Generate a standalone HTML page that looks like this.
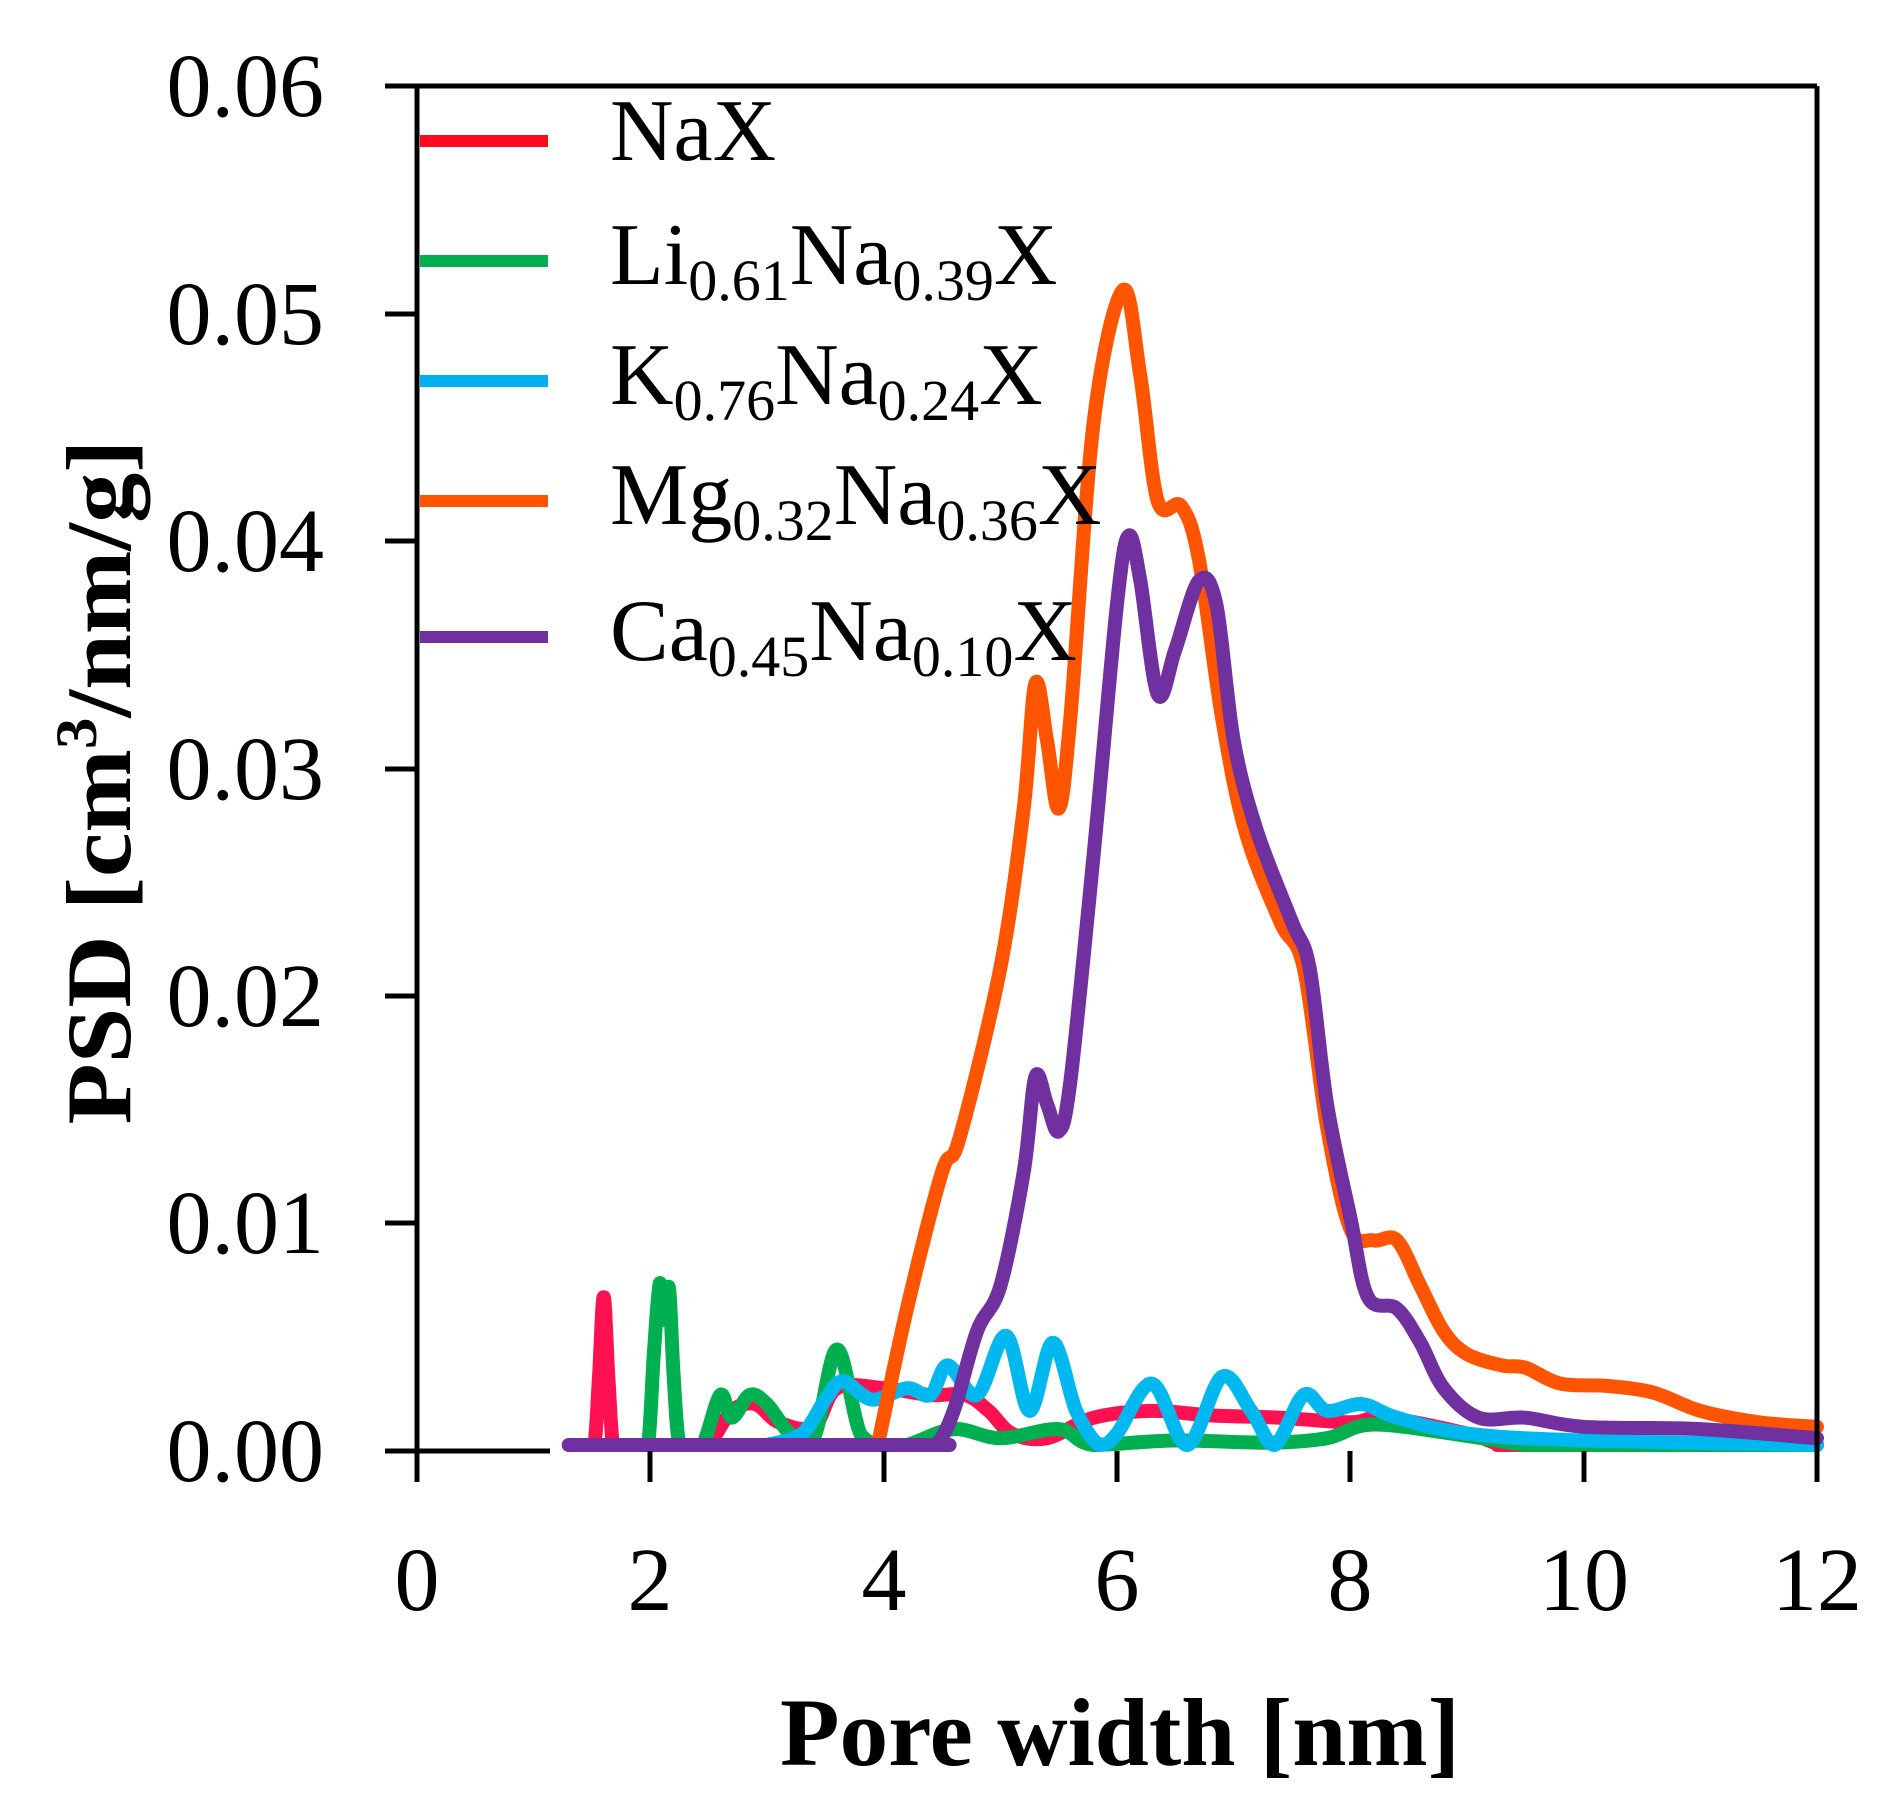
<!DOCTYPE html>
<html><head><meta charset="utf-8"><style>
body{margin:0;background:#fff}
svg{display:block}
text{font-family:"Liberation Serif",serif;fill:#000}
</style></head><body>
<svg id="s" width="1899" height="1811" viewBox="0 0 1899 1811" xmlns="http://www.w3.org/2000/svg">
<g id="curves" fill="none" stroke-width="14" stroke-linejoin="round" stroke-linecap="round"></g>
<g stroke="#000" stroke-width="5" fill="none">
<line x1="417" y1="86" x2="1817" y2="86"/>
<line x1="417" y1="86" x2="417" y2="1451"/>
<line x1="1817" y1="86" x2="1817" y2="1451"/>
<line x1="385" y1="1451" x2="550" y2="1451"/>
<line x1="385" y1="86" x2="417" y2="86"/>
<line x1="385" y1="314" x2="417" y2="314"/>
<line x1="385" y1="541" x2="417" y2="541"/>
<line x1="385" y1="769" x2="417" y2="769"/>
<line x1="385" y1="996" x2="417" y2="996"/>
<line x1="385" y1="1223" x2="417" y2="1223"/>
<line x1="417" y1="1451" x2="417" y2="1482"/>
<line x1="650" y1="1451" x2="650" y2="1482"/>
<line x1="884" y1="1451" x2="884" y2="1482"/>
<line x1="1117" y1="1451" x2="1117" y2="1482"/>
<line x1="1350" y1="1451" x2="1350" y2="1482"/>
<line x1="1584" y1="1451" x2="1584" y2="1482"/>
<line x1="1817" y1="1451" x2="1817" y2="1482"/>
</g>
<g font-size="90" text-anchor="end">
<text x="324" y="116">0.06</text>
<text x="324" y="344">0.05</text>
<text x="324" y="571">0.04</text>
<text x="324" y="799">0.03</text>
<text x="324" y="1026">0.02</text>
<text x="324" y="1253">0.01</text>
<text x="324" y="1481">0.00</text>
</g>
<g font-size="90" text-anchor="middle">
<text x="417" y="1610">0</text>
<text x="650" y="1610">2</text>
<text x="884" y="1610">4</text>
<text x="1117" y="1610">6</text>
<text x="1350" y="1610">8</text>
<text x="1584" y="1610">10</text>
<text x="1817" y="1610">12</text>
</g>
<text x="1120" y="1765" font-size="96" font-weight="bold" text-anchor="middle" textLength="680" lengthAdjust="spacingAndGlyphs">Pore width [nm]</text>
<text transform="translate(130,782) rotate(-90)" font-size="92" font-weight="bold" text-anchor="middle" textLength="685" lengthAdjust="spacingAndGlyphs">PSD [cm<tspan font-size="58" dy="-34">3</tspan><tspan dy="34">/nm/g]</tspan></text>
<g stroke-width="12">
<line x1="420" y1="141" x2="548" y2="141" stroke="#ff0a1e"/>
<line x1="420" y1="261" x2="548" y2="261" stroke="#00b050"/>
<line x1="420" y1="381" x2="548" y2="381" stroke="#00b0f0"/>
<line x1="420" y1="501" x2="548" y2="501" stroke="#ff5500"/>
<line x1="420" y1="637" x2="548" y2="637" stroke="#7030a0"/>
</g>
<g font-size="88">
<text x="610" y="160">NaX</text>
<text x="610" y="284">Li<tspan font-size="58" dy="16">0.61</tspan><tspan dy="-16">Na</tspan><tspan font-size="58" dy="16">0.39</tspan><tspan dy="-16">X</tspan></text>
<text x="610" y="404">K<tspan font-size="58" dy="16">0.76</tspan><tspan dy="-16">Na</tspan><tspan font-size="58" dy="16">0.24</tspan><tspan dy="-16">X</tspan></text>
<text x="610" y="524">Mg<tspan font-size="58" dy="16">0.32</tspan><tspan dy="-16">Na</tspan><tspan font-size="58" dy="16">0.36</tspan><tspan dy="-16">X</tspan></text>
<text x="610" y="660">Ca<tspan font-size="58" dy="16">0.45</tspan><tspan dy="-16">Na</tspan><tspan font-size="58" dy="16">0.10</tspan><tspan dy="-16">X</tspan></text>
</g>
</svg>
<script>
function X(x){return 417+116.67*x}
function Y(y){return 1445-22733*y}
function path(d){
 var p=d.map(function(a){return [X(a[0]),Y(a[1])]});
 var s="M"+p[0][0].toFixed(1)+" "+p[0][1].toFixed(1);
 for(var i=0;i<p.length-1;i++){
  var p0=p[i-1]||p[i],p1=p[i],p2=p[i+1],p3=p[i+2]||p2;
  var c1=[p1[0]+(p2[0]-p0[0])/6,p1[1]+(p2[1]-p0[1])/6];
  var c2=[p2[0]-(p3[0]-p1[0])/6,p2[1]-(p3[1]-p1[1])/6];
  if(p1[1]>=1444&&p2[1]>=1444){c1[1]=p1[1];c2[1]=p2[1];}
  c1[1]=Math.min(c1[1],1445);c2[1]=Math.min(c2[1],1445);
  s+="C"+c1[0].toFixed(1)+" "+c1[1].toFixed(1)+" "+c2[0].toFixed(1)+" "+c2[1].toFixed(1)+" "+p2[0].toFixed(1)+" "+p2[1].toFixed(1);
 }
 return s;
}
var S={
red:["#ff1050",[[1.45,0],[1.52,0],[1.56,0.003],[1.6,0.0065],[1.64,0.003],[1.68,0],[1.75,0],[2.4,0],[2.5,0],[2.7,0.0015],[2.9,0.0018],[3.1,0.001],[3.4,0.0008],[3.6,0.0025],[4,0.0025],[4.4,0.0022],[4.7,0.0022],[4.9,0.0015],[5.1,0.0005],[5.4,0.0003],[5.8,0.0012],[6.3,0.0015],[6.8,0.0013],[7.4,0.0012],[8.0,0.001],[8.3,0.0012],[9,0.0005],[9.3,0],[9.5,0],[12,0]]],
green:["#00b050",[[1.9,0],[1.98,0],[2.03,0.004],[2.08,0.0071],[2.12,0.0055],[2.16,0.0069],[2.2,0.003],[2.25,0],[2.35,0],[2.45,0],[2.6,0.0022],[2.7,0.0012],[2.85,0.0022],[3.0,0.0018],[3.2,0.0005],[3.4,0.0003],[3.6,0.0042],[3.8,0.0005],[4.0,0],[4.2,0],[4.6,0.0007],[5,0.0003],[5.5,0.0007],[5.8,0],[6.5,0.0002],[7.3,0.0001],[7.8,0.0003],[8.2,0.0009],[9,0.0004],[9.5,0],[9.7,0],[12,0]]],
cyan:["#00b8f0",[[3.0,0],[3.3,0.0005],[3.5,0.002],[3.65,0.0028],[3.9,0.002],[4.2,0.0025],[4.4,0.0022],[4.55,0.0035],[4.8,0.0022],[5.05,0.0048],[5.25,0.0015],[5.45,0.0045],[5.65,0.0015],[5.85,0],[6.0,0.0005],[6.3,0.0027],[6.6,0],[6.9,0.003],[7.15,0.0015],[7.35,0],[7.6,0.0022],[7.8,0.0015],[8.1,0.0018],[8.4,0.0012],[9,0.0005],[10,0.0002],[12,0]]],
orange:["#ff5500",[[3.95,0],[4.2,0.006],[4.5,0.012],[4.65,0.0135],[5.0,0.021],[5.2,0.028],[5.3,0.0335],[5.4,0.031],[5.5,0.028],[5.6,0.032],[5.8,0.045],[6.05,0.0508],[6.2,0.047],[6.35,0.0415],[6.55,0.0413],[6.7,0.039],[6.9,0.032],[7.1,0.027],[7.4,0.023],[7.6,0.021],[7.8,0.014],[8.0,0.0095],[8.2,0.009],[8.4,0.009],[8.6,0.007],[8.8,0.005],[9.0,0.004],[9.3,0.0035],[9.5,0.0034],[9.8,0.0027],[10.2,0.0026],[10.6,0.0023],[11,0.0015],[11.5,0.001],[12,0.0008]]],
purple:["#7030a0",[[1.3,0],[4.3,0],[4.45,0],[4.6,0.0015],[4.8,0.005],[5.0,0.007],[5.2,0.012],[5.3,0.0162],[5.4,0.015],[5.5,0.0138],[5.6,0.016],[5.8,0.026],[6.0,0.037],[6.1,0.040],[6.2,0.038],[6.35,0.033],[6.5,0.035],[6.7,0.038],[6.85,0.037],[7.0,0.031],[7.2,0.027],[7.5,0.023],[7.65,0.021],[7.8,0.015],[8.0,0.010],[8.15,0.0065],[8.4,0.006],[8.6,0.0045],[8.8,0.0025],[9.1,0.0012],[9.5,0.0012],[10,0.0008],[11,0.0007],[12,0.0003]]]
};
var g=document.getElementById("curves");
["red","green","cyan","orange","purple"].forEach(function(k){
 var e=document.createElementNS("http://www.w3.org/2000/svg","path");
 e.setAttribute("d",path(S[k][1]));e.setAttribute("stroke",S[k][0]);g.appendChild(e);
});
</script>
</body></html>
